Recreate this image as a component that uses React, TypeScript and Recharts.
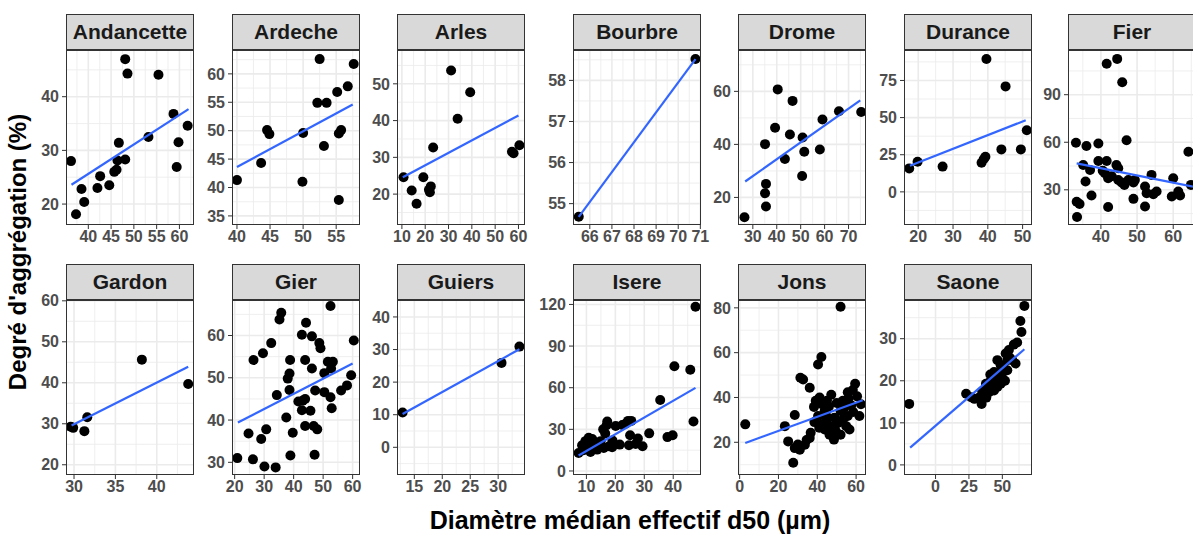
import { CartesianGrid, Scatter, ScatterChart, XAxis, YAxis } from 'recharts'

type Pt = [number, number]

// points, [d50, aggregation %]
const andancettePts: Pt[] = [
  [36.2, 28.0], [37.3, 18.1], [38.5, 22.8], [39.1, 20.4], [42.0, 23.0], [42.6, 25.2], [44.6, 23.5],
  [45.7, 26.0], [46.2, 26.4], [46.7, 31.4], [46.4, 28.1], [48.1, 28.3], [48.1, 47.0], [48.6, 44.3],
  [53.2, 32.5], [55.4, 44.1], [58.7, 36.8], [59.8, 31.5], [59.4, 26.9], [61.8, 34.6],
]
const ardechePts: Pt[] = [
  [40.0, 41.3], [43.65, 44.3], [44.55, 50.1], [44.9, 49.4], [50.0, 49.6], [49.9, 41.0], [52.5, 62.6],
  [52.15, 54.9], [53.55, 54.9], [53.15, 47.3], [55.15, 56.8], [55.4, 49.5], [55.75, 50.1], [55.4, 37.8],
  [56.75, 57.8], [57.65, 61.75],
]
const arlesPts: Pt[] = [
  [10.7, 24.6], [14.2, 21.0], [16.3, 17.4], [19.2, 24.6], [22.0, 20.5], [22.4, 22.1], [21.6, 21.2],
  [23.4, 32.7], [31.1, 53.6], [33.9, 40.5], [39.3, 47.7], [57.2, 31.5], [57.9, 31.1], [60.4, 33.3],
]
const bourbrePts: Pt[] = [[65.5, 54.68], [70.78, 58.52]]
const dromePts: Pt[] = [
  [26.5, 12.5], [35.1, 40.1], [35.5, 25.1], [35.1, 21.6], [35.5, 16.6], [39.3, 46.25], [40.4, 60.75],
  [43.4, 34.5], [45.5, 43.75], [46.6, 56.4], [50.8, 42.6], [51.5, 37.25], [50.6, 28.1], [58.0, 38.1],
  [59.1, 49.4], [66.0, 52.5], [75.3, 52.25],
]
const durancePts: Pt[] = [
  [17.4, 15.8], [19.8, 20.3], [27.0, 17.0], [38.2, 19.6], [38.8, 21.9], [39.3, 23.7], [39.6, 89.5],
  [43.9, 28.6], [45.1, 71.0], [49.5, 28.6], [51.2, 41.5],
]
const fierPts: Pt[] = [
  [33.3, 22.5], [34.1, 21.0], [33.4, 12.8], [33.1, 59.7], [36.0, 57.6], [39.3, 59.2], [35.1, 45.6],
  [37.0, 42.5], [35.75, 35.2], [37.4, 26.4], [39.3, 48.2], [41.6, 48.2], [41.1, 40.4], [42.0, 37.3],
  [41.6, 109.5], [44.5, 112.6], [45.9, 97.9], [44.3, 45.6], [44.8, 36.2], [42.0, 19.1], [47.1, 61.3],
  [47.6, 36.2], [49.0, 24.3], [49.4, 36.2], [52.2, 32.1], [52.65, 27.9], [52.2, 19.5], [54.0, 39.4],
  [54.5, 27.2], [55.4, 28.9], [59.6, 25.8], [60.0, 37.3], [61.4, 28.9], [61.9, 26.4], [64.2, 54.0],
  [64.9, 33.1], [45.7, 34.6], [49.0, 34.6], [44.8, 43.6], [43.0, 38.5], [40.5, 42.0], [46.5, 33.0],
]
const gardonPts: Pt[] = [[29.6, 29.3], [29.9, 29.0], [31.25, 28.2], [31.6, 31.6], [38.2, 45.65], [43.8, 39.7]]
const gierPts: Pt[] = [
  [20.9, 31.0], [26.2, 30.7], [30.1, 29.0], [33.9, 28.8], [24.7, 36.8], [29.0, 35.5], [30.7, 37.8],
  [26.4, 54.2], [29.6, 55.8], [32.4, 58.2], [35.8, 65.4], [35.2, 63.8], [34.3, 45.9], [37.5, 40.6],
  [38.8, 54.2], [38.6, 51.0], [38.0, 49.8], [38.6, 47.1], [39.7, 37.0], [38.9, 31.6], [41.6, 44.4],
  [43.1, 44.6], [42.8, 42.3], [43.9, 45.0], [44.2, 63.0], [42.8, 60.2], [46.2, 59.8], [43.9, 54.2],
  [46.2, 52.2], [45.7, 42.2], [43.9, 38.6], [46.8, 38.6], [48.0, 37.8], [47.1, 31.8], [48.7, 58.2],
  [49.1, 57.0], [47.3, 47.0], [50.4, 46.6], [52.5, 45.4], [50.4, 51.1], [52.5, 67.0], [51.6, 53.8],
  [53.3, 53.8], [52.7, 52.2], [52.9, 42.8], [56.1, 47.0], [58.1, 48.2], [59.5, 50.6], [60.4, 58.8],
]
const guiersPts: Pt[] = [[12.9, 10.7], [30.6, 25.9], [33.8, 30.9]]
const iserePts: Pt[] = [
  [47.7, 118.3], [40.4, 75.5], [45.9, 73.0], [35.5, 51.1], [47.0, 35.6], [38.0, 24.4], [39.8, 25.8],
  [31.7, 27.1], [29.4, 17.8], [27.8, 23.4], [25.1, 25.8], [24.7, 18.5], [24.4, 36.1], [22.4, 33.1],
  [20.1, 32.4], [17.2, 35.6], [15.8, 30.0], [17.8, 17.8], [16.0, 16.6], [13.7, 15.4], [10.8, 23.9],
  [9.65, 21.5], [8.5, 18.5], [7.3, 12.9], [11.4, 13.7], [12.5, 18.5], [14.9, 21.5], [18.9, 17.1],
  [25.5, 36.1], [16.5, 27.0], [11.0, 20.0], [19.0, 22.0], [9.0, 15.0], [12.0, 23.0], [21.5, 19.0],
  [27.0, 19.5], [15.0, 17.5], [17.0, 33.0], [23.5, 34.0], [10.0, 17.0],
]
const jonsPts: Pt[] = [
  [2.9, 28.0], [52.0, 80.5], [42.1, 58.1], [40.4, 54.7], [32.7, 48.0], [31.3, 48.8], [36.1, 44.3],
  [28.4, 32.2], [23.3, 27.2], [25.0, 20.4], [27.6, 10.9], [28.4, 17.4], [31.0, 16.7], [33.6, 18.9],
  [36.1, 21.9], [36.6, 24.2], [38.3, 35.8], [41.2, 40.0], [40.4, 31.7], [42.4, 28.0], [43.8, 25.7],
  [45.5, 31.0], [47.2, 41.2], [46.3, 23.4], [48.6, 21.2], [48.9, 31.0], [52.0, 34.0], [53.2, 38.5],
  [54.9, 27.2], [56.6, 25.7], [55.7, 42.3], [58.3, 43.3], [59.5, 46.1], [61.7, 31.7], [55.7, 31.7],
  [43.8, 34.0], [42.4, 37.0], [39.2, 38.5], [54.0, 35.5], [52.0, 23.4], [62.5, 37.0], [44.5, 29.5],
  [50.5, 28.5], [57.5, 36.5], [46.0, 36.0], [41.0, 26.5], [44.0, 32.5], [47.5, 27.0], [50.0, 37.5],
  [53.5, 30.5], [56.0, 39.5], [58.5, 33.5], [60.5, 40.5], [45.0, 38.5], [49.5, 25.0], [38.5, 29.0],
  [34.5, 21.0], [30.0, 19.0],
]
const saonePts: Pt[] = [
  [-19.7, 14.5], [66.5, 37.8], [63.5, 34.2], [64.3, 31.6], [61.1, 29.1], [58.6, 28.6], [54.9, 27.3],
  [52.5, 26.5], [57.4, 24.9], [59.9, 24.1], [46.3, 24.9], [48.8, 23.7], [43.8, 22.1], [53.7, 22.5],
  [50.0, 20.5], [41.4, 20.1], [46.3, 18.5], [37.7, 19.3], [40.1, 17.3], [36.5, 16.9], [32.8, 16.1],
  [34.5, 14.5], [22.9, 16.9], [26.6, 16.1], [29.1, 15.7], [43.8, 17.7], [48.8, 19.3], [53.7, 24.9],
  [39.0, 18.5], [42.5, 19.0], [45.0, 21.0], [47.5, 22.0], [51.0, 23.0], [55.5, 25.5], [38.0, 16.0],
  [44.5, 20.0], [49.5, 21.5], [35.0, 17.5], [41.0, 21.5], [52.0, 20.0],
]

// fitted lines, ends
const andancetteFit: Pt[] = [[36.3, 23.6], [62.0, 37.7]]
const ardecheFit: Pt[] = [[40.0, 43.6], [57.5, 54.6]]
const arlesFit: Pt[] = [[10.4, 24.6], [60.0, 41.4]]
const bourbreFit: Pt[] = [[65.5, 54.68], [70.78, 58.52]]
const dromeFit: Pt[] = [[26.8, 26.0], [74.9, 56.6]]
const duranceFit: Pt[] = [[17.6, 17.6], [50.9, 48.2]]
const fierFit: Pt[] = [[33.3, 46.7], [65.5, 32.05]]
const gardonFit: Pt[] = [[29.7, 29.6], [43.8, 43.9]]
const gierFit: Pt[] = [[21.1, 39.4], [60.0, 53.4]]
const guiersFit: Pt[] = [[12.9, 10.2], [33.8, 30.1]]
const isereFit: Pt[] = [[7.3, 11.2], [47.7, 59.9]]
const jonsFit: Pt[] = [[2.9, 19.7], [63.4, 38.8]]
const saoneFit: Pt[] = [[-19.0, 4.1], [66.5, 27.5]]

const RIVERS = [
  'Andancette', 'Ardeche', 'Arles', 'Bourbre', 'Drome', 'Durance', 'Fier',
  'Gardon', 'Gier', 'Guiers', 'Isere', 'Jons', 'Saone',
]
const POINTS = [
  andancettePts, ardechePts, arlesPts, bourbrePts, dromePts, durancePts, fierPts,
  gardonPts, gierPts, guiersPts, iserePts, jonsPts, saonePts,
]
const FITS = [
  andancetteFit, ardecheFit, arlesFit, bourbreFit, dromeFit, duranceFit, fierFit,
  gardonFit, gierFit, guiersFit, isereFit, jonsFit, saoneFit,
]
const X_TICKS = [
  [40, 45, 50, 55, 60], [40, 45, 50, 55], [10, 20, 30, 40, 50, 60], [66, 67, 68, 69, 70, 71],
  [30, 40, 50, 60, 70], [20, 30, 40, 50], [40, 50, 60],
  [30, 35, 40], [20, 30, 40, 50, 60], [15, 20, 25, 30], [10, 20, 30, 40], [0, 20, 40, 60], [0, 25, 50],
]
const Y_TICKS = [
  [20, 30, 40], [35, 40, 45, 50, 55, 60], [20, 30, 40, 50], [55, 56, 57, 58],
  [20, 40, 60], [0, 25, 50, 75], [30, 60, 90],
  [20, 30, 40, 50, 60], [30, 40, 50, 60], [0, 10, 20, 30, 40], [0, 30, 60, 90, 120], [20, 40, 60, 80], [0, 10, 20, 30],
]
const X_RANGE = [
  [35.1, 63.2], [39.25, 58.6], [7.9, 62.8], [65.24, 71.03], [23.8, 77.3], [15.9, 52.7], [30.9, 66.3],
  [29.03, 44.5], [19.1, 62.5], [11.9, 34.8], [5.36, 49.6], [-0.85, 65.1], [-23.6, 72.2],
]
const Y_RANGE = [
  [16.1, 48.7], [33.4, 64.2], [11.6, 59.2], [54.48, 58.74], [9.6, 75.6], [-22.3, 95.5], [7.8, 118.2],
  [17.5, 60.2], [27.0, 68.4], [-8.5, 45.2], [-2.9, 123.2], [5.4, 83.5], [-2.4, 39.2],
]

const COL_LEFT = [66, 232, 397, 573, 738, 904, 1068]
const ROW_TOP = [50, 300]
const PLOT_W = 128
const PLOT_H = 175
const STRIP_H = 36
const YW = 40
const XH = 30
const PAD = 12

function minors(ticks: number[], range: number[]) {
  const step = ticks[1] - ticks[0]
  const out: number[] = []
  for (let v = ticks[0] - step * 10.5; v <= range[1]; v += step) if (v >= range[0]) out.push(v)
  return out
}

const dot = (p: any) => <circle cx={p.cx} cy={p.cy} r={5} fill="#000" />

function Panel({ i }: { i: number }) {
  const row = i < 7 ? 0 : 1
  const left = COL_LEFT[i % 7]
  const top = ROW_TOP[row]
  const xr = X_RANGE[i]
  const yr = Y_RANGE[i]
  const pts = POINTS[i].map(([x, y]) => ({ x, y }))
  const fit = FITS[i].map(([x, y]) => ({ x, y }))
  const tick = { fill: '#4D4D4D', fontSize: 16, fontWeight: 700 }
  return (
    <>
      <div
        style={{
          position: 'absolute', left, top: top - STRIP_H, width: PLOT_W, height: STRIP_H,
          background: '#D9D9D9', border: '1.3px solid #333', boxSizing: 'border-box',
          display: 'flex', alignItems: 'center', justifyContent: 'center',
          fontSize: 21, fontWeight: 700, color: '#1A1A1A', whiteSpace: 'nowrap',
        }}
      >
        {RIVERS[i]}
      </div>
      <div style={{ position: 'absolute', left: left - YW, top: top - PAD }}>
        <ScatterChart
          width={YW + PLOT_W + PAD}
          height={PAD + PLOT_H + XH}
          margin={{ top: PAD, right: PAD, bottom: 0, left: 0 }}
        >
          <CartesianGrid
            stroke="#EBEBEB"
            strokeWidth={0.8}
            verticalValues={minors(X_TICKS[i], xr)}
            horizontalValues={minors(Y_TICKS[i], yr)}
          />
          <CartesianGrid
            stroke="#EBEBEB"
            strokeWidth={1.6}
            verticalValues={X_TICKS[i]}
            horizontalValues={Y_TICKS[i]}
          />
          <XAxis
            type="number"
            dataKey="x"
            domain={xr}
            allowDataOverflow
            ticks={X_TICKS[i]}
            interval={0}
            height={XH}
            tick={tick}
            tickSize={4}
            tickMargin={2}
            axisLine={false}
            tickLine={{ stroke: '#333' }}
          />
          <YAxis
            type="number"
            dataKey="y"
            domain={yr}
            allowDataOverflow
            ticks={Y_TICKS[i]}
            interval={0}
            width={YW}
            tick={tick}
            tickSize={4}
            tickMargin={3}
            axisLine={false}
            tickLine={{ stroke: '#333' }}
          />
          <Scatter data={pts} shape={dot} isAnimationActive={false} />
          <Scatter
            data={fit}
            line={{ stroke: '#3366FF', strokeWidth: 2.2 }}
            shape={() => <g />}
            isAnimationActive={false}
          />
        </ScatterChart>
      </div>
      <div
        style={{
          position: 'absolute', left, top, width: PLOT_W, height: PLOT_H,
          border: '1.3px solid #333', boxSizing: 'border-box', pointerEvents: 'none',
        }}
      />
    </>
  )
}

export default function App() {
  return (
    <div
      style={{
        position: 'absolute', left: 0, top: 0, width: 1193, height: 534, overflow: 'hidden',
        background: '#fff', fontFamily: '"Liberation Sans", Arial, sans-serif',
      }}
    >
      {RIVERS.map((_, i) => (
        <Panel key={i} i={i} />
      ))}
      <div
        style={{
          position: 'absolute', left: 18, top: 252, transform: 'translate(-50%, -50%) rotate(-90deg)',
          fontSize: 24, fontWeight: 700, color: '#000', whiteSpace: 'nowrap',
        }}
      >
        Degré d'aggrégation (%)
      </div>
      <div
        style={{
          position: 'absolute', left: 630, top: 520, transform: 'translate(-50%, -50%)',
          fontSize: 25, fontWeight: 700, color: '#000', whiteSpace: 'nowrap',
        }}
      >
        Diamètre médian effectif d50 (µm)
      </div>
    </div>
  )
}
